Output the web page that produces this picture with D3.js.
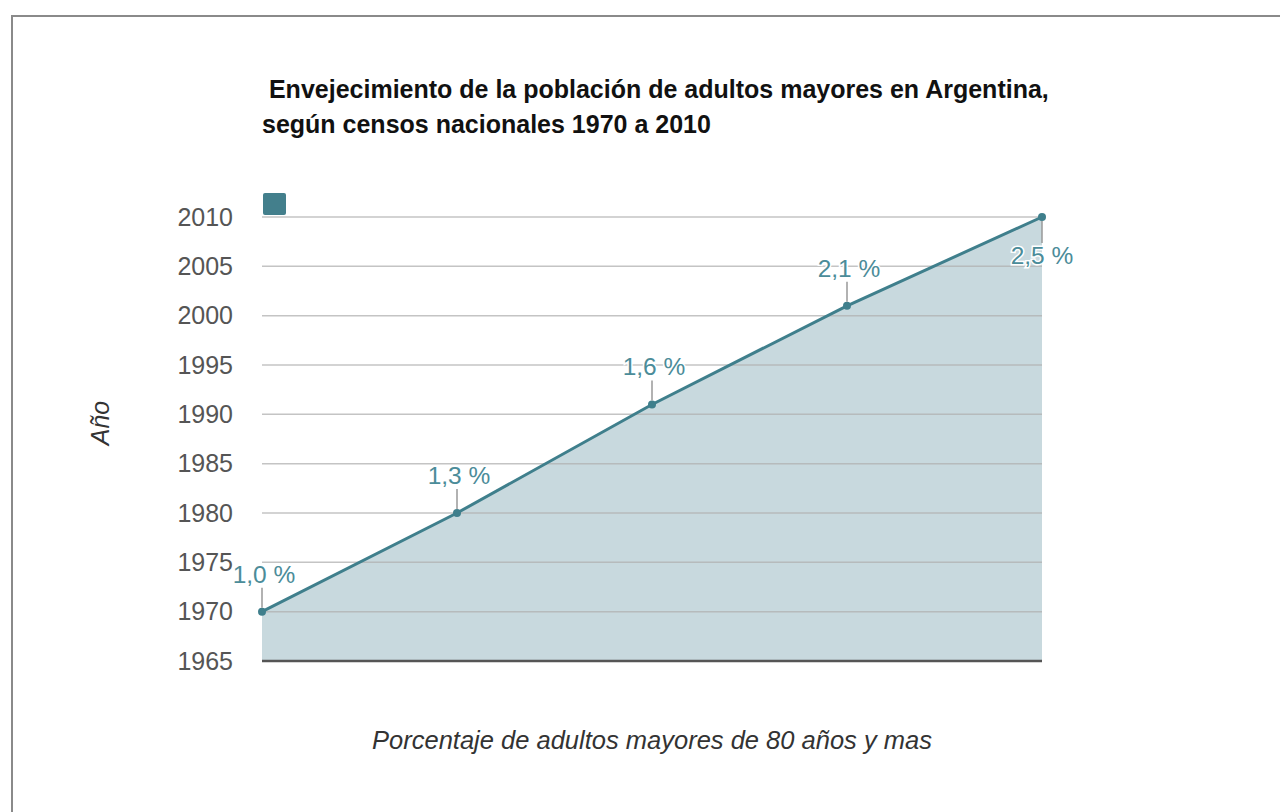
<!DOCTYPE html>
<html>
<head>
<meta charset="utf-8">
<script src="https://cdn.jsdelivr.net/npm/d3@7"></script>
<style>
  html, body { margin: 0; padding: 0; background: #fff; }
  svg { display: block; font-family: "Liberation Sans", Arial, sans-serif; }
</style>
</head>
<body>
<svg id="chart" width="1280" height="812"></svg>
<script>
// data
var labels = ["1,0 %", "1,3 %", "1,6 %", "2,1 %", "2,5 %"];
var years = [1970, 1980, 1991, 2001, 2010];
var yTicks = [1965, 1970, 1975, 1980, 1985, 1990, 1995, 2000, 2005, 2010];

var svg = d3.select("#chart");
var margin = { top: 217, left: 262, right: 238, bottom: 151 };
var width = 1280 - margin.left - margin.right,
    height = 812 - margin.top - margin.bottom;

// frame
svg.append("rect")
    .attr("x", 12).attr("y", 16)
    .attr("width", 1400).attr("height", 900)
    .attr("fill", "none")
    .attr("stroke", "#8a8a8a")
    .attr("stroke-width", 2);

var x = d3.scalePoint().domain(d3.range(labels.length)).range([0, width]);
var y = d3.scaleLinear().domain([1965, 2010]).range([height, 0]);

var g = svg.append("g").attr("transform", "translate(" + margin.left + "," + margin.top + ")");

// area
var area = d3.area()
    .x(function (d, i) { return x(i); })
    .y0(y(1965))
    .y1(function (d) { return y(d); });

g.append("path")
    .datum(years)
    .attr("d", area)
    .attr("fill", "#c8d9de");

// grid
g.append("g")
    .selectAll("line")
    .data(yTicks.slice(1))
    .enter().append("line")
    .attr("x1", 0).attr("x2", width)
    .attr("y1", function (d) { return y(d); })
    .attr("y2", function (d) { return y(d); })
    .attr("stroke", "#b0b0b0")
    .attr("stroke-opacity", 0.75)
    .attr("stroke-width", 1.5);

// y axis labels
g.append("g")
    .attr("transform", "translate(-26,0)")
    .call(d3.axisLeft(y).tickValues(yTicks).tickSize(0).tickFormat(d3.format("d")))
    .call(function (a) { a.select(".domain").remove(); })
    .selectAll("text")
    .attr("font-size", 25)
    .attr("font-family", "Liberation Sans, Arial, sans-serif")
    .attr("fill", "#555");

// baseline
g.append("line")
    .attr("x1", 0).attr("x2", width)
    .attr("y1", y(1965)).attr("y2", y(1965))
    .attr("stroke", "#555")
    .attr("stroke-width", 2.5);

// line + points
var line = d3.line()
    .x(function (d, i) { return x(i); })
    .y(function (d) { return y(d); });

g.append("path")
    .datum(years)
    .attr("d", line)
    .attr("fill", "none")
    .attr("stroke", "#3f7f8c")
    .attr("stroke-width", 3);

g.selectAll("circle.pt")
    .data(years)
    .enter().append("circle")
    .attr("class", "pt")
    .attr("cx", function (d, i) { return x(i); })
    .attr("cy", function (d) { return y(d); })
    .attr("r", 4)
    .attr("fill", "#3f7f8c");

// data labels with leaders
var last = years.length - 1;
g.selectAll("line.leader")
    .data(years)
    .enter().append("line")
    .attr("class", "leader")
    .attr("x1", function (d, i) { return x(i); })
    .attr("x2", function (d, i) { return x(i); })
    .attr("y1", function (d, i) { return y(d) + (i == last ? 4 : -4); })
    .attr("y2", function (d, i) { return y(d) + (i == last ? 26 : -24); })
    .attr("stroke", "#999")
    .attr("stroke-width", 1.5);

g.selectAll("text.lbl")
    .data(years)
    .enter().append("text")
    .attr("class", "lbl")
    .attr("x", function (d, i) { return x(i) + (i == last ? 0 : 2); })
    .attr("y", function (d, i) { return y(d) + (i == last ? 47 : -29); })
    .attr("text-anchor", "middle")
    .attr("font-size", 24.5)
    .attr("fill", "#4b8c99")
    .attr("stroke", "#fff")
    .attr("stroke-width", 3)
    .attr("paint-order", "stroke")
    .text(function (d, i) { return labels[i]; });

// legend marker
svg.append("rect")
    .attr("x", 263).attr("y", 193)
    .attr("width", 23).attr("height", 22)
    .attr("rx", 2)
    .attr("fill", "#437f8c");

// titles
var title = svg.append("text")
    .attr("x", 262)
    .attr("font-size", 25)
    .attr("font-weight", "bold")
    .attr("fill", "#111");
title.append("tspan").attr("x", 262).attr("y", 98)
    .text("\u00a0Envejecimiento de la población de adultos mayores en Argentina,");
title.append("tspan").attr("x", 262).attr("y", 133)
    .text("según censos nacionales 1970 a 2010");

svg.append("text")
    .attr("x", margin.left + width / 2)
    .attr("y", 749)
    .attr("text-anchor", "middle")
    .attr("font-size", 25.5)
    .attr("font-style", "italic")
    .attr("fill", "#333")
    .text("Porcentaje de adultos mayores de 80 años y mas");

svg.append("text")
    .attr("transform", "translate(109,423) rotate(-90)")
    .attr("text-anchor", "middle")
    .attr("font-size", 25)
    .attr("font-style", "italic")
    .attr("fill", "#333")
    .text("Año");
</script>
</body>
</html>
